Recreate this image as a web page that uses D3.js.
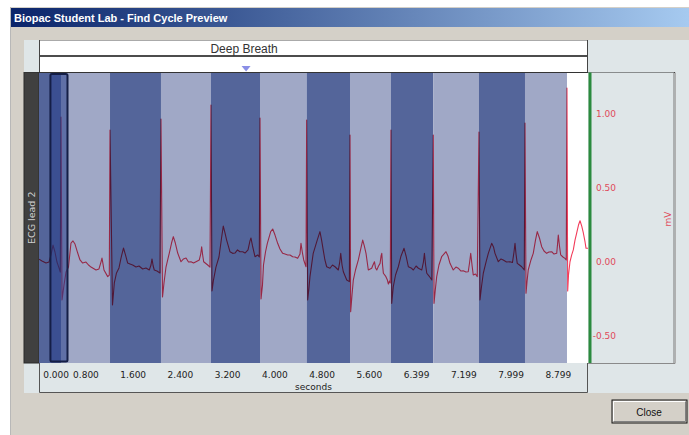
<!DOCTYPE html>
<html>
<head>
<meta charset="utf-8">
<script src="https://d3js.org/d3.v7.min.js"></script>
<style>
  html, body { margin: 0; padding: 0; background: #fff; }
  svg { display: block; }
  .tick text { font-family: "DejaVu Sans", sans-serif; font-size: 9px; }
</style>
</head>
<body>
<div id="chart"></div>
<script>
// --- DATA ---
var windowTitle = "Biopac Student Lab - Find Cycle Preview";
var channelLabel = "ECG lead 2";
var unitLabel = "mV";
var timeLabel = "seconds";
var eventLabel = "Deep Breath";
var eventTime = 3.52;

var yTickValues = [1.0, 0.5, 0.0, -0.5];
var yTickLabels = ["1.00", "0.50", "0.00", "-0.50"];
var xTickValues = [0, 0.8, 1.6, 2.4, 3.2, 4.0, 4.8, 5.6, 6.399, 7.199, 7.999, 8.799];
var xTickLabels = ["0.000", "0.800", "1.600", "2.400", "3.200", "4.000", "4.800",
                   "5.600", "6.399", "7.199", "7.999", "8.799"];

// R-peak times (s) = cycle boundaries
var rPeakTimes = [0.386, 1.216, 2.079, 2.926, 3.756, 4.546, 5.280, 5.974, 6.690, 7.464, 8.243, 8.954];
var selectedCycle = [0.19, 0.513];

// ECG trace [seconds, mV]
var ecgPoints = [
  [0.014, 0.012], [0.064, 0.000], [0.132, -0.014], [0.183, -0.007], [0.217, 0.041], [0.251, 0.108],
  [0.284, 0.061], [0.318, -0.007], [0.352, -0.047], [0.374, -0.075],
  [0.386, 0.976], [0.403, -0.264], [0.437, -0.163], [0.471, -0.075], [0.513, -0.041], [0.555, 0.122],
  [0.589, 0.136], [0.623, 0.115], [0.669, 0.054], [0.708, 0.007], [0.753, -0.014], [0.809, -0.007],
  [0.852, -0.027], [0.894, -0.041], [0.979, -0.061], [1.029, -0.054], [1.063, -0.007], [1.080, 0.020],
  [1.097, -0.020], [1.114, -0.061], [1.177, -0.106], [1.204, -0.095],
  [1.216, 0.888], [1.258, -0.298], [1.289, -0.149], [1.326, -0.081], [1.368, -0.047], [1.402, 0.020],
  [1.444, 0.088], [1.478, 0.041], [1.515, -0.014], [1.554, -0.020], [1.600, -0.027], [1.656, -0.041],
  [1.707, -0.034], [1.769, -0.054], [1.825, -0.047], [1.881, -0.061], [1.910, -0.027], [1.927, 0.014],
  [1.947, -0.034], [1.966, -0.061], [2.011, -0.068], [2.062, -0.081],
  [2.079, 0.963], [2.105, -0.244], [2.130, -0.149], [2.164, -0.041], [2.220, 0.054], [2.258, 0.122],
  [2.288, 0.165], [2.322, 0.122], [2.362, 0.054], [2.418, -0.005], [2.460, 0.014], [2.503, 0.020],
  [2.545, -0.007], [2.587, -0.005], [2.630, -0.014], [2.672, -0.005], [2.728, 0.007], [2.752, 0.047],
  [2.768, 0.097], [2.785, 0.041], [2.802, -0.005], [2.870, -0.027], [2.909, -0.041],
  [2.926, 1.058], [2.943, -0.203], [2.968, -0.129], [3.010, -0.041], [3.061, 0.027], [3.107, 0.163],
  [3.134, 0.237], [3.163, 0.190], [3.191, 0.142], [3.247, 0.063], [3.293, 0.052], [3.332, 0.054],
  [3.375, 0.075], [3.417, 0.063], [3.463, 0.063], [3.502, 0.054], [3.553, 0.075], [3.586, 0.136],
  [3.603, 0.156], [3.629, 0.102], [3.671, 0.029], [3.717, 0.041], [3.744, 0.027],
  [3.756, 0.970], [3.773, -0.258], [3.798, -0.163], [3.815, -0.027], [3.849, 0.061], [3.880, 0.120],
  [3.937, 0.199], [3.971, 0.217], [4.010, 0.176], [4.055, 0.120], [4.094, 0.081], [4.140, 0.052],
  [4.179, 0.047], [4.225, 0.041], [4.264, 0.041], [4.309, 0.029], [4.348, 0.027], [4.394, 0.018],
  [4.433, 0.047], [4.450, 0.120], [4.472, 0.061], [4.496, 0.007], [4.535, -0.039],
  [4.546, 0.956], [4.563, -0.264], [4.585, -0.183], [4.602, -0.106], [4.657, 0.052], [4.725, 0.142],
  [4.771, 0.199], [4.799, 0.142], [4.826, 0.075], [4.855, 0.007], [4.885, -0.039], [4.941, -0.049],
  [4.983, -0.027], [5.026, -0.039], [5.082, -0.061], [5.106, -0.007], [5.123, 0.052], [5.145, -0.027],
  [5.167, -0.073], [5.225, -0.129], [5.269, -0.140],
  [5.280, 0.854], [5.291, -0.344], [5.314, -0.231], [5.336, -0.129], [5.373, -0.061], [5.421, 0.007],
  [5.458, 0.075], [5.495, 0.142], [5.522, 0.102], [5.551, 0.052], [5.590, -0.061], [5.647, -0.049],
  [5.669, -0.027], [5.694, -0.005], [5.712, -0.047], [5.733, -0.061], [5.763, -0.034], [5.789, -0.016],
  [5.806, 0.034], [5.818, 0.052], [5.831, -0.027], [5.845, -0.083], [5.882, -0.102], [5.913, -0.129],
  [5.930, -0.156], [5.947, -0.136], [5.962, -0.149],
  [5.974, 0.888], [5.986, -0.287], [6.013, -0.174], [6.051, -0.095], [6.098, -0.039], [6.144, 0.034],
  [6.195, 0.086], [6.229, 0.034], [6.268, -0.039], [6.314, -0.047], [6.353, -0.061], [6.399, -0.034],
  [6.438, -0.049], [6.495, -0.061], [6.523, -0.007], [6.540, 0.052], [6.560, -0.027], [6.580, -0.083],
  [6.619, -0.102], [6.665, -0.129],
  [6.690, 0.854], [6.702, -0.287], [6.724, -0.197], [6.748, -0.106], [6.786, -0.027], [6.832, 0.029],
  [6.905, 0.063], [6.939, 0.034], [6.973, -0.016], [7.028, -0.061], [7.074, -0.041], [7.113, -0.049],
  [7.159, -0.068], [7.197, -0.066], [7.243, -0.075], [7.282, -0.073], [7.306, -0.007], [7.324, 0.052],
  [7.346, -0.027], [7.367, -0.095], [7.405, -0.088], [7.435, -0.106],
  [7.464, 0.875], [7.481, -0.264], [7.506, -0.176], [7.537, -0.083], [7.583, -0.007], [7.622, 0.052],
  [7.679, 0.120], [7.710, 0.095], [7.735, 0.052], [7.791, -0.005], [7.837, 0.014], [7.875, 0.007],
  [7.930, -0.007], [7.989, -0.005], [8.031, -0.010], [8.057, 0.061], [8.074, 0.120], [8.091, 0.047],
  [8.112, -0.016], [8.150, -0.027], [8.187, -0.039], [8.231, -0.061],
  [8.243, 0.936], [8.260, -0.219], [8.277, -0.142], [8.298, -0.061], [8.344, 0.007], [8.383, 0.052],
  [8.421, 0.142], [8.451, 0.199], [8.488, 0.156], [8.526, 0.097], [8.565, 0.068], [8.610, 0.052],
  [8.649, 0.061], [8.695, 0.063], [8.734, 0.047], [8.780, 0.052], [8.793, 0.108], [8.807, 0.176],
  [8.827, 0.102], [8.848, 0.041], [8.886, 0.027], [8.920, 0.018], [8.942, 0.007],
  [8.954, 1.173], [8.966, -0.203], [8.980, -0.095], [9.005, -0.005], [9.034, 0.041], [9.061, 0.075],
  [9.090, 0.142], [9.119, 0.190], [9.149, 0.244], [9.175, 0.273], [9.204, 0.237], [9.231, 0.190],
  [9.260, 0.129], [9.277, 0.086], [9.310, 0.086]
];

// --- SETUP ---
var width = 689, height = 435;
var plot = { left: 39, right: 588, top: 72.5, bottom: 363 };

var svg = d3.select("#chart").append("svg")
  .attr("width", width)
  .attr("height", height);

var defs = svg.append("defs");
var grad = defs.append("linearGradient").attr("id", "titleGrad");
grad.append("stop").attr("offset", "0%").attr("stop-color", "#0a246a");
grad.append("stop").attr("offset", "100%").attr("stop-color", "#a6caf0");
defs.append("clipPath").attr("id", "plotClip").append("rect")
  .attr("x", plot.left).attr("y", plot.top)
  .attr("width", plot.right - plot.left).attr("height", plot.bottom - plot.top);

var x = d3.scaleLinear().domain([0, 9.31]).range([38.2, plot.right]);
var y = d3.scaleLinear().domain([-0.6915, 1.2746]).range([plot.bottom, 73]);

// --- DIALOG FRAME ---
svg.append("rect").attr("x", 10).attr("y", 7).attr("width", width - 10).attr("height", height - 7)
  .attr("fill", "#d4d0c8");
svg.append("line").attr("x1", 10.5).attr("x2", 10.5).attr("y1", 7).attr("y2", height)
  .attr("stroke", "#b8b8b8");
svg.append("rect").attr("x", 11).attr("y", 8).attr("width", width - 11).attr("height", 19)
  .attr("fill", "url(#titleGrad)");
svg.append("text").attr("x", 14).attr("y", 22)
  .attr("font-family", "Liberation Sans, Arial, sans-serif").attr("font-size", "11px")
  .attr("font-weight", "bold").attr("fill", "#fff")
  .text(windowTitle);

// light panel
svg.append("rect").attr("x", 24).attr("y", 40).attr("width", width - 24).attr("height", 353)
  .attr("fill", "#dfe6e8");

// --- EVENT HEADER ---
svg.append("rect").attr("x", plot.left).attr("y", 40).attr("width", plot.right - plot.left).attr("height", 32.5)
  .attr("fill", "#fff");
svg.append("line").attr("x1", plot.left).attr("x2", plot.right).attr("y1", 40.5).attr("y2", 40.5).attr("stroke", "#aaa");
svg.append("line").attr("x1", plot.left).attr("x2", plot.right).attr("y1", 56).attr("y2", 56)
  .attr("stroke", "#111").attr("stroke-width", 1.6);
svg.append("line").attr("x1", plot.left + 0.5).attr("x2", plot.left + 0.5).attr("y1", 40).attr("y2", 73).attr("stroke", "#444");
svg.append("line").attr("x1", plot.right - 0.5).attr("x2", plot.right - 0.5).attr("y1", 40).attr("y2", 73).attr("stroke", "#444");
svg.append("text").attr("x", x(eventTime) - 2).attr("y", 53.3).attr("text-anchor", "middle")
  .attr("font-family", "Liberation Sans, Arial, sans-serif").attr("font-size", "12px").attr("fill", "#333")
  .text(eventLabel);
var ex = x(eventTime);
svg.append("path")
  .attr("d", "M" + (ex - 4.5) + ",66 L" + (ex + 4.5) + ",66 L" + ex + ",71.5 Z")
  .attr("fill", "#8a8ee6");

// --- CHANNEL LABEL BAR ---
svg.append("rect").attr("x", 24).attr("y", plot.top).attr("width", 15).attr("height", plot.bottom - plot.top)
  .attr("fill", "#404040").attr("stroke", "#2a2a2a");
svg.append("text")
  .attr("transform", "translate(35," + ((plot.top + plot.bottom) / 2) + ") rotate(-90)")
  .attr("text-anchor", "middle")
  .attr("font-family", "DejaVu Sans, sans-serif").attr("font-size", "9.5px").attr("fill", "#d0d0d0")
  .text(channelLabel);

// --- PLOT ---
var plotG = svg.append("g").attr("clip-path", "url(#plotClip)");
plotG.append("rect").attr("x", plot.left).attr("y", plot.top)
  .attr("width", plot.right - plot.left).attr("height", plot.bottom - plot.top).attr("fill", "#fff");

var edges = [0].concat(rPeakTimes);
var bands = d3.pairs(edges);
plotG.selectAll(".band").data(bands).enter().append("rect")
  .attr("class", "band")
  .attr("x", d => x(d[0]))
  .attr("width", d => x(d[1]) - x(d[0]))
  .attr("y", plot.top)
  .attr("height", plot.bottom - plot.top)
  .attr("fill", (d, i) => i % 2 === 0 ? "#54659a" : "#a0a8c6");

var line = d3.line().x(d => x(d[0])).y(d => y(d[1]));
plotG.append("path")
  .datum(ecgPoints)
  .attr("d", line)
  .attr("fill", "none")
  .attr("stroke", "#f23c5a")
  .attr("stroke-width", 1.1)
  .attr("stroke-linejoin", "round")
  .style("mix-blend-mode", "multiply");

// selected cycle
plotG.append("rect")
  .attr("x", x(selectedCycle[0]) + 1)
  .attr("width", x(selectedCycle[1]) - x(selectedCycle[0]) - 2)
  .attr("y", plot.top + 1.5)
  .attr("height", plot.bottom - plot.top - 3)
  .attr("rx", 1.5)
  .attr("fill", "rgba(38,61,138,0.53)")
  .attr("stroke", "#141e46").attr("stroke-width", 2);

// top border of plot
svg.append("line").attr("x1", 24).attr("x2", 675).attr("y1", plot.top).attr("y2", plot.top).attr("stroke", "#333");

// --- RIGHT AXIS PANEL ---
svg.append("rect").attr("x", plot.right).attr("y", plot.top).attr("width", 86).attr("height", plot.bottom - plot.top)
  .attr("fill", "#dfe6e8");
svg.append("line").attr("x1", 674).attr("x2", 674).attr("y1", plot.top).attr("y2", plot.bottom + 0.5)
  .attr("stroke", "#7a7a7a");
svg.append("line").attr("x1", 675.5).attr("x2", 675.5).attr("y1", plot.top).attr("y2", plot.bottom + 0.5)
  .attr("stroke", "#b0b0b0");
svg.append("line").attr("x1", plot.right).attr("x2", 675).attr("y1", plot.bottom + 0.5).attr("y2", plot.bottom + 0.5)
  .attr("stroke", "#8a8a8a");
svg.append("rect").attr("x", 588.5).attr("y", plot.top).attr("width", 3).attr("height", plot.bottom - plot.top)
  .attr("fill", "#2b8a3e");

var yAxis = d3.axisRight(y).tickValues(yTickValues).tickSize(0)
  .tickFormat((d, i) => yTickLabels[i]);
var yAxisG = svg.append("g").attr("transform", "translate(591,0)").call(yAxis);
yAxisG.select(".domain").remove();
yAxisG.selectAll("text").attr("x", 25).attr("dy", "0.36em")
  .attr("text-anchor", "end").attr("fill", "#e04a5a");

svg.append("text")
  .attr("transform", "translate(671," + 219 + ") rotate(-90)")
  .attr("text-anchor", "middle")
  .attr("font-family", "DejaVu Sans, sans-serif").attr("font-size", "9px").attr("fill", "#e04a5a")
  .text(unitLabel);

// --- BOTTOM AXIS ---
svg.append("path")
  .attr("d", "M" + (plot.left + 0.5) + "," + plot.bottom + " V392.5 H" + (plot.right - 0.5) + " V" + plot.bottom)
  .attr("fill", "none").attr("stroke", "#555");

var xAxis = d3.axisBottom(x).tickValues(xTickValues).tickSize(0)
  .tickFormat((d, i) => xTickLabels[i]);
var xAxisG = svg.append("g").attr("transform", "translate(0," + plot.bottom + ")").call(xAxis);
xAxisG.select(".domain").remove();
xAxisG.selectAll("text").attr("y", 14.7).attr("dy", null).attr("fill", "#222");
xAxisG.selectAll("text").filter((d, i) => i === 0).attr("text-anchor", "start").attr("x", 4.5);

svg.append("text").attr("x", (plot.left + plot.right) / 2).attr("y", 389.5)
  .attr("text-anchor", "middle")
  .attr("font-family", "DejaVu Sans, sans-serif").attr("font-size", "9px").attr("fill", "#222")
  .text(timeLabel);

// --- CLOSE BUTTON ---
var btn = svg.append("g");
btn.append("rect").attr("x", 612).attr("y", 400).attr("width", 75).attr("height", 23)
  .attr("fill", "#d4d0c8").attr("stroke", "#111");
btn.append("path").attr("d", "M613.5,421.5 V401.5 H685.5").attr("fill", "none").attr("stroke", "#fff");
btn.append("path").attr("d", "M613.5,421.5 H685.5 V401.5").attr("fill", "none").attr("stroke", "#808080");
btn.append("text").attr("x", 649).attr("y", 416).attr("text-anchor", "middle")
  .attr("font-family", "Liberation Sans, Arial, sans-serif").attr("font-size", "10px").attr("fill", "#111")
  .text("Close");
</script>
</body>
</html>
